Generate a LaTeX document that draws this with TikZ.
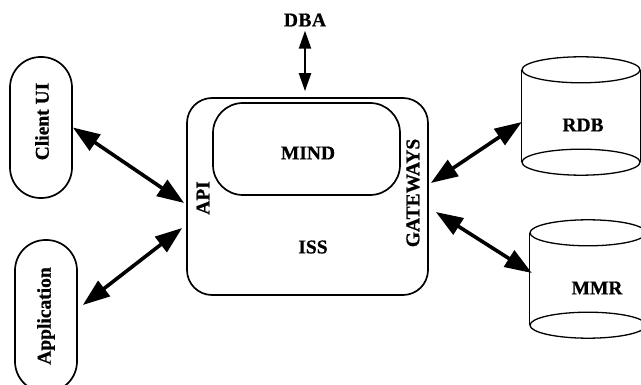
\documentclass[tikz,border=0pt]{standalone}
\usepackage{fontspec}
\setmainfont{Liberation Serif}[BoldFeatures={FakeBold=0.8}]
\usetikzlibrary{arrows.meta,calc}
\begin{document}
\begin{tikzpicture}[x=1pt,y=-1pt,
  lbl/.style={font=\fontsize{19.5}{19.5}\selectfont\bfseries, inner sep=0pt},
  pill/.style={draw, line width=1.7pt, rounded corners=30.5pt, minimum width=62pt, inner sep=0pt},
  frame/.style={draw, line width=1.7pt, inner sep=0pt},
  db/.style={line width=1.3pt},
  bigarrow/.style={line width=3.6pt, {Triangle[length=27pt,width=19pt]}-{Triangle[length=27pt,width=19pt]}},
  thinarrow/.style={line width=2.2pt, {Triangle[length=18pt,width=12pt]}-{Triangle[length=18pt,width=12pt]}}
]
\useasboundingbox (0,0) rectangle (641,385);

% client side
\node[pill, minimum height=141pt] (cui) at (41,127.5) {};
\node[lbl, rotate=90] at (42,121.5) {Client UI};
\node[pill, minimum height=152pt] (app) at (46,316) {};
\node[lbl, rotate=90] at (46,316) {Application};

% server
\node[frame, rounded corners=25pt, minimum width=241pt, minimum height=197pt] (iss) at (307.5,196.5) {};
\node[frame, rounded corners=30pt, minimum width=187pt, minimum height=92pt] (mind) at (306.5,149) {};
\node[lbl] at (308,153) {MIND};
\node[lbl] at (313,247) {ISS};
\node[lbl, rotate=90] (api) at (203,198) {API};
\node[lbl, rotate=90] (gw) at (413,193) {GATEWAYS};

% administrator
\node[lbl] (dba) at (305,20) {D\kern0.5pt B\kern0.5pt A};

% databases
\node[minimum width=118pt, minimum height=118pt, inner sep=0pt] (rdb) at (581,116) {};
\draw[db] ($(rdb.north)+(0,13)$) ellipse [x radius=59, y radius=13];
\draw[db] ($(rdb.south)+(0,-13)$) ellipse [x radius=59, y radius=13];
\draw[db] ($(rdb.north west)+(0,13)$) -- ($(rdb.south west)+(0,-13)$);
\draw[db] ($(rdb.north east)+(0,13)$) -- ($(rdb.south east)+(0,-13)$);
\node[lbl] at (583,125) {RDB};

\node[minimum width=116pt, minimum height=118pt, inner sep=0pt] (mmr) at (588,279) {};
\draw[db] ($(mmr.north)+(0,13)$) ellipse [x radius=58, y radius=13];
\draw[db] ($(mmr.south)+(0,-13)$) ellipse [x radius=58, y radius=13];
\draw[db] ($(mmr.north west)+(0,13)$) -- ($(mmr.south west)+(0,-13)$);
\draw[db] ($(mmr.north east)+(0,13)$) -- ($(mmr.south east)+(0,-13)$);
\node[lbl] at (597,288) {MMR};

% connectors
\draw[bigarrow] (cui.east) -- ($(iss.west)+(-2,6.5)$);
\draw[bigarrow] ($(app.east)+(5,-11)$) -- ($(iss.west)+(-4,31.5)$);
\draw[bigarrow] ($(iss.east)+(2,-13.5)$) -- ($(rdb.west)+(0,6)$);
\draw[bigarrow] ($(iss.east)+(7,15.5)$) -- ($(mmr.west)+(2,-6)$);
\draw[thinarrow] ($(dba.south)+(0,4)$) -- ($(iss.north)+(-2.5,-6)$);
\end{tikzpicture}
\end{document}
